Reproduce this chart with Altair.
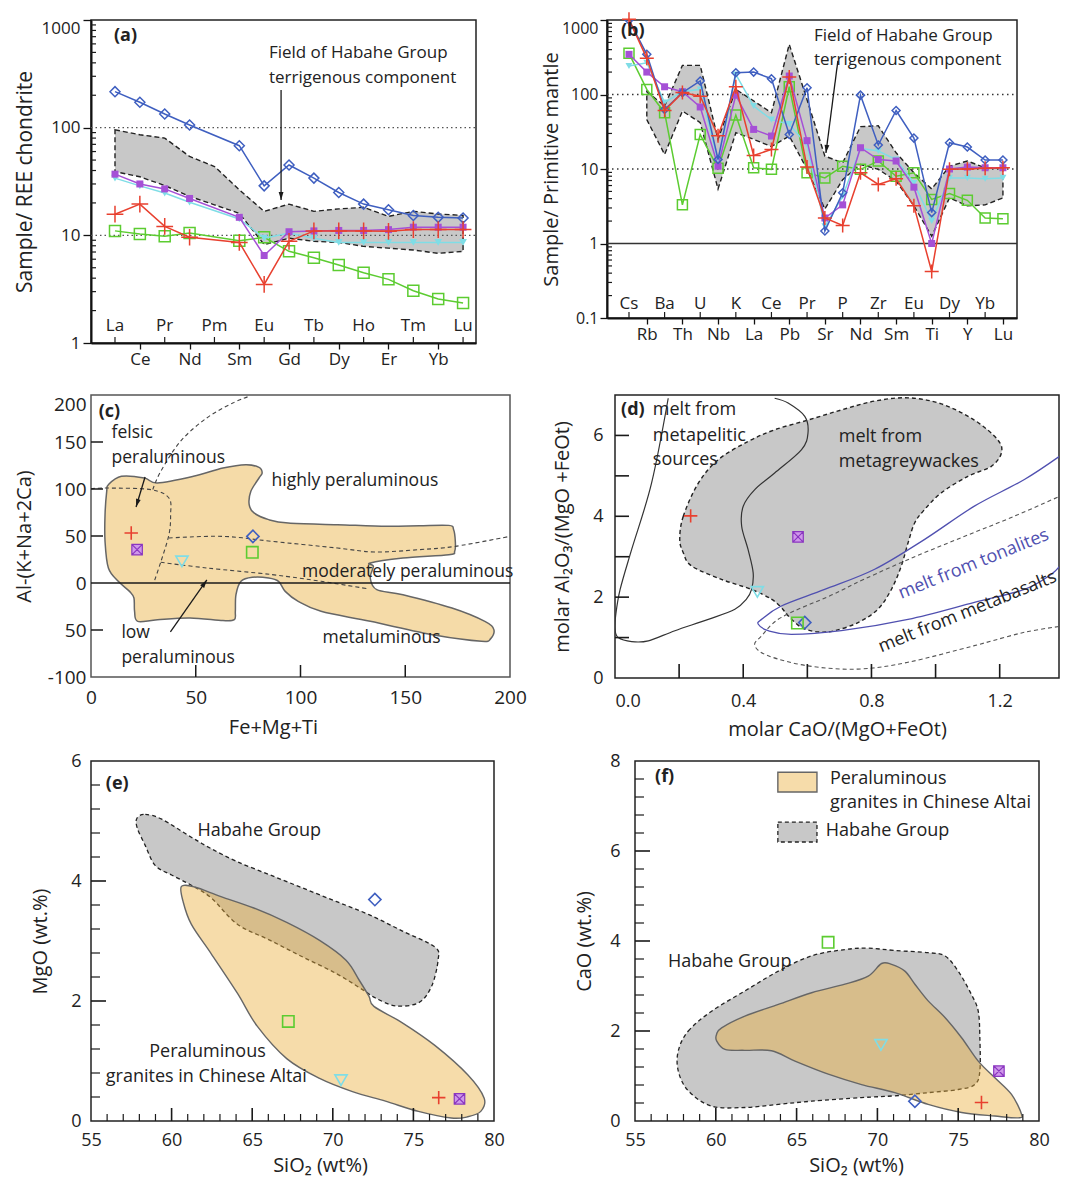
import altair as alt
import pandas as pd

FONT = "Open Sans"
BLUE = "#3f5fc0"; PURPLE = "#a550d6"; PURPLE_L = "#cf97ea"; CYAN = "#7fdde6"
RED = "#e8402f"; GREEN = "#5ccc31"; GRAY = "#c8c8c8"; TAN = "#f5dba8"
TAN_T = "#ebb03e"; TAN_A = 0.44; INK = "#1a1a1a"; DBLUE = "#5050b0"

PLUS = "M-1,0L1,0M0,-1L0,1"
XSQ = "M-1,-1L1,-1L1,1L-1,1Z M-1,-1L1,1 M1,-1L-1,1"
ARROW = "M0,0L-0.3,1L0.3,1Z"

# ---------------- (a) REE ----------------
REE = ["La", "Ce", "Pr", "Nd", "Pm", "Sm", "Eu", "Gd", "Tb", "Dy", "Ho", "Er", "Tm", "Yb", "Lu"]
a_blue = [216, 172, 134, 106, None, 68, 28.8, 45, 34, 25, 19.5, 17.3, 15.3, 14.7, 14.5]
a_purple = [37, 30, 27, 22, None, 14.7, 6.5, 10.8, 11, 11.1, 11.1, 11.3, 11.9, 11.9, 11.9]
a_cyan = [34, 28.8, 24.7, 20.3, None, 14.2, 9.4, 10.5, 9.4, 8.6, 8.6, 8.6, 8.6, 8.6, 8.6]
a_red = [15.7, 19.5, 12.1, 9.6, None, 8.6, 3.5, 8.8, 11, 11, 11, 10.9, 11.3, 11.3, 11.3]
a_green = [11, 10.3, 9.8, 10.5, None, 8.9, 9.6, 7.1, 6.2, 5.3, 4.5, 3.9, 3.06, 2.56, 2.35]
a_field_hi = [95.5, 86, 80, 54, 43.6, 26.5, 16.7, 19.5, 16.7, 17.6, 18.2, 15, 16.7, 15.8, 15.3]
a_field_lo = [39, 35, 29, 23, 19.2, 16, 8.2, 9.4, 8.8, 8.6, 7.9, 7.6, 7.3, 6.8, 7.1]

# ---------------- (b) trace elements ----------------
TE = ["Cs", "Rb", "Ba", "Th", "U", "Nb", "K", "La", "Ce", "Pb", "Pr", "Sr", "P", "Nd", "Zr",
      "Sm", "Eu", "Ti", "Dy", "Y", "Yb", "Lu"]
b_blue = [1000, 346, 63, 106, 152, 13.4, 196, 200, 163, 29, 123, 1.47, 4.8, 98, 21, 61, 26, 2.6, 22.5, 19.7, 13.2, 13.2]
b_purple = [346, 200, 127, 109, 68, 10.9, 98, 34, 27.7, 177, 24, 2.2, 3.3, 19.3, 13.4, 12.8, 5.7, 1.0, 10, 10.6, 10.4, 10.4]
b_cyan = [241, 267, 78, 110, 117, 12.8, 186, 70, 46, 40, 21, 1.7, 4.3, 19, 17.4, 13.4, 6.5, 2.0, 7.6, 7.6, 7.4, 7.6]
b_red = [1020, 306, 61, 106, 95, 28, 127, 15.2, 18.3, 172, 10.6, 2.2, 1.75, 8.9, 6.2, 7.4, 3.2, 0.42, 9.9, 10, 10.2, 10.4]
b_green = [357, 117, 57, 3.3, 29, 10.2, 53, 10.4, 9.9, 127, 8.9, 7.6, 10.9, 9.9, 12.8, 8.0, 8.9, 3.9, 4.7, 3.8, 2.2, 2.15]
b_field_idx = list(range(1, 22))
b_field_hi = [110, 70, 246, 246, 25, 117, 82, 57, 471, 85, 14.9, 12.1, 37, 38, 16.5, 8.9, 5.4, 10.9, 12.8, 10.4, 10.4]
b_field_lo = [46, 15.7, 60, 42, 5.4, 30.7, 25, 20, 27.7, 9.9, 2.9, 7.2, 11.5, 9.9, 6.9, 3.2, 1.25, 4.1, 3.2, 3.3, 4.1]

# ---------------- (c) A-B diagram ----------------
c_field_x = [8.3, 14.5, 25.5, 31.7, 48.9, 63, 73.9, 80.2, 81.7, 80.2, 76.3, 75.5, 77.8, 84.8, 94.2, 117.7,
             141.1, 156.7, 170.8, 173.1, 173.9, 173.6, 170.8, 148.9, 133.3, 134.8, 133.3, 136.4, 148.9,
             172.3, 188, 192.3, 190.8, 186.4, 164.5, 133.3, 109.8, 98.9, 92.7, 89.5, 84.8, 77, 71.6, 69.2,
             68.9, 68.4, 63, 47.3, 31.7, 22.3, 20.8, 20.5, 18.4, 13, 8.3, 6.7, 6.7, 7.5]
c_field_y = [104.6, 113.5, 111.7, 106.4, 113.5, 122.3, 125.9, 123, 117, 111.7, 97.5, 83.3, 74.5, 67.4, 63.8,
             62.1, 60.3, 61, 61.3, 56.7, 44.3, 33.7, 30.1, 26.6, 21.3, 17.7, 5.3, -7.1, -12.4, -26.6, -40.8,
             -49.6, -59.2, -62, -55.7, -40.8, -30.1, -19.5, -8.9, 1.8, 5.3, 6, 1.8, -12.4, -30.1, -39, -40,
             -37.2, -39, -40.8, -30.1, -16, -8.9, 1.8, 16, 44.3, 72.7, 97.5]
c_curve_x = [29.5, 33.3, 42.7, 55.2, 67.7, 75.5]
c_curve_y = [99.5, 118.8, 150.7, 175.5, 191.5, 198.6]
c_felsic_x = [0, 8.3, 28.6, 37.2, 38.0, 37.2, 33.3, 30.2]
c_felsic_y = [100.4, 101, 99.3, 90.4, 72.7, 51.4, 22.3, 1.8]
c_mod_x = [37.2, 63, 86.4, 117.7, 135.2, 156.7, 173.9, 200]
c_mod_y = [47.9, 49.6, 44.3, 37.2, 33, 35.5, 39, 49.6]
c_low_x = [33.3, 55.2, 86.4, 109.8, 131.7]
c_low_y = [22, 16, 8.9, 1.8, -6]
c_pts = {"red": (19.2, 53.2), "purple": (22, 35.5), "cyan": (43.4, 23), "blue": (77.3, 49.6), "green": (77, 32.6)}

# ---------------- (d) melt fields ----------------
d_pel_x = [0.166, 0.114, 0.052, 0.016, 0.002, 0.0, 0.010, 0.052, 0.104, 0.187, 0.291, 0.374, 0.410, 0.426,
           0.431, 0.415, 0.395, 0.400, 0.436, 0.498, 0.582, 0.602, 0.592, 0.540, 0.498]
d_pel_y = [6.92, 4.82, 3.18, 2.19, 1.54, 1.21, 1.0, 0.90, 0.92, 1.17, 1.45, 1.70, 1.95, 2.19, 2.60, 3.18,
           3.76, 4.25, 4.66, 5.07, 5.65, 6.06, 6.47, 6.80, 6.92]
d_gw_x = [0.202, 0.213, 0.260, 0.322, 0.415, 0.498, 0.602, 0.706, 0.810, 0.914, 1.018, 1.121, 1.194, 1.205,
          1.173, 1.101, 1.018, 0.966, 0.935, 0.914, 0.893, 0.862, 0.820, 0.758, 0.685, 0.633, 0.582, 0.540,
          0.519, 0.488, 0.426, 0.332, 0.239, 0.213]
d_gw_y = [3.43, 4.0, 4.82, 5.40, 5.85, 6.14, 6.38, 6.63, 6.85, 6.93, 6.78, 6.38, 5.89, 5.56, 5.23, 4.99, 4.58,
          4.17, 3.84, 3.34, 2.77, 2.19, 1.70, 1.37, 1.17, 1.14, 1.25, 1.54, 1.74, 1.95, 2.19, 2.44, 2.77, 3.10]
d_ton_x = [1.400, 1.277, 1.121, 0.966, 0.810, 0.654, 0.519, 0.457, 0.447, 0.478, 0.550, 0.706, 0.914, 1.121,
           1.277, 1.360, 1.391]
d_ton_y = [5.56, 4.91, 4.25, 3.43, 2.69, 2.19, 1.78, 1.45, 1.33, 1.17, 1.08, 1.17, 1.45, 1.87, 2.19, 2.56, 2.81]
d_bas_x = [1.400, 1.245, 1.089, 0.935, 0.779, 0.675, 0.519, 0.457, 0.436, 0.478, 0.602, 0.758, 0.914, 1.121,
           1.277, 1.400]
d_bas_y = [4.54, 4.0, 3.50, 3.0, 2.45, 2.05, 1.50, 1.04, 0.80, 0.55, 0.30, 0.22, 0.39, 0.80, 1.13, 1.29]
d_pts = {"red": (0.236, 4.01), "purple": (0.571, 3.49), "cyan": (0.444, 2.13), "green": (0.569, 1.36),
         "blue": (0.592, 1.37)}

# ---------------- (e) MgO vs SiO2 ----------------
e_hab_x = [57.86, 58.37, 59.39, 61.22, 62.45, 64.08, 66.12, 68.16, 70.2, 72.24, 74.29, 76.33, 76.53, 76.12,
           75.31, 73.88, 72.65, 71.84, 70.2, 68.16, 66.12, 64.08, 62.45, 61.22, 60.0, 58.98, 58.37, 57.86]
e_hab_y = [5.05, 5.11, 5.03, 4.73, 4.54, 4.32, 4.10, 3.88, 3.66, 3.44, 3.17, 2.90, 2.68, 2.24, 1.97, 1.92,
           2.05, 2.19, 2.46, 2.73, 3.01, 3.28, 3.72, 3.93, 4.10, 4.26, 4.59, 4.89]
e_gra_x = [60.61, 61.43, 63.06, 65.10, 67.14, 69.18, 70.82, 71.63, 72.24, 72.55, 74.29, 76.33, 78.37, 79.39,
           79.18, 78.37, 77.35, 75.31, 73.27, 71.22, 69.18, 67.14, 65.31, 64.08, 62.45, 61.22, 60.71]
e_gra_y = [3.91, 3.90, 3.74, 3.55, 3.31, 3.01, 2.68, 2.35, 2.08, 1.91, 1.64, 1.26, 0.77, 0.38, 0.16, 0.07,
           0.05, 0.16, 0.33, 0.49, 0.71, 1.04, 1.58, 2.13, 2.79, 3.28, 3.66]
e_pts = {"blue": (72.61, 3.69), "green": (67.24, 1.66), "cyan": (70.51, 0.68), "red": (76.57, 0.39),
         "purple": (77.86, 0.37)}

# ---------------- (f) CaO vs SiO2 ----------------
f_hab_x = [57.68, 58.30, 59.74, 61.80, 63.87, 65.93, 67.99, 69.43, 71.08, 73.14, 74.18, 75.0, 75.82, 76.24,
           76.34, 76.34, 76.03, 75.0, 73.14, 71.08, 69.02, 65.93, 63.87, 61.80, 59.74, 58.30, 57.68]
f_hab_y = [1.56, 2.0, 2.44, 2.89, 3.33, 3.67, 3.81, 3.84, 3.79, 3.74, 3.67, 3.33, 2.81, 2.44, 1.85, 1.11,
           0.81, 0.70, 0.63, 0.56, 0.52, 0.44, 0.37, 0.30, 0.33, 0.67, 1.11]
f_gra_x = [60.05, 60.36, 61.80, 63.87, 65.93, 67.99, 69.43, 70.26, 70.88, 71.70, 72.32, 73.14, 74.18, 75.21,
           76.24, 77.27, 78.30, 78.92, 78.71, 77.27, 75.21, 73.14, 71.08, 69.02, 66.96, 64.90, 63.45, 61.80,
           60.57, 60.05]
f_gra_y = [1.93, 2.07, 2.33, 2.59, 2.85, 3.04, 3.22, 3.50, 3.48, 3.33, 3.04, 2.67, 2.30, 1.85, 1.33, 0.96,
           0.59, 0.15, 0.07, 0.11, 0.19, 0.37, 0.63, 0.81, 1.04, 1.33, 1.56, 1.57, 1.59, 1.78]
f_pts = {"green": (66.95, 3.97), "cyan": (70.22, 1.69), "purple": (77.52, 1.11), "blue": (72.32, 0.44),
         "red": (76.44, 0.41)}


# ================= helpers =================
def arr(lst):
    return "[" + ",".join("'" + s + "'" for s in lst) + "]"


def xenc(dom, **ax):
    return alt.X("x:Q", scale=alt.Scale(domain=dom, nice=False, zero=False), axis=alt.Axis(**ax))


def yenc(dom, log=False, **ax):
    if log:
        sc = alt.Scale(type="log", domain=dom, nice=False)
    else:
        sc = alt.Scale(domain=dom, nice=False, zero=False)
    return alt.Y("y:Q", scale=sc, axis=alt.Axis(**ax))


def series(X, Y, xs, ys, color, shape, filled, size, clip=False):
    df = pd.DataFrame({"x": xs, "y": ys}).dropna()
    base = alt.Chart(df).encode(x=X, y=Y)
    return [base.mark_line(color=color, strokeWidth=1.5, clip=clip),
            base.mark_point(shape=shape, color=color, filled=filled, size=size, opacity=1,
                            strokeWidth=1.5, clip=clip)]


STYLE = {
    "blue": dict(color=BLUE, shape="diamond"),
    "green": dict(color=GREEN, shape="square"),
    "cyan": dict(color=CYAN, shape="triangle-down"),
    "red": dict(color=RED, shape=PLUS),
}


def sample_points(X, Y, pts):
    out = []
    sizes = {"blue": 150, "green": 130, "cyan": 150, "red": 180, "purple": 110}
    for k in ["red", "purple", "cyan", "blue", "green"]:
        x, y = pts[k]
        df = pd.DataFrame({"x": [x], "y": [y]})
        if k == "purple":
            out.append(alt.Chart(df).mark_point(shape="square", filled=True, color=PURPLE_L, size=sizes[k],
                                                opacity=1).encode(x=X, y=Y))
            out.append(alt.Chart(df).mark_point(shape=XSQ, filled=False, color="#8a36c0", size=sizes[k],
                                                opacity=1, strokeWidth=1.2).encode(x=X, y=Y))
        else:
            s = STYLE[k]
            out.append(alt.Chart(df).mark_point(shape=s["shape"], filled=False, color=s["color"],
                                                size=sizes[k], opacity=1, strokeWidth=1.6).encode(x=X, y=Y))
    return out


def poly(X, Y, xs, ys, interp, fill=None, fillOpacity=1.0, stroke=INK, dash=None, sw=1.3, clip=False):
    df = pd.DataFrame({"x": xs, "y": ys, "o": list(range(len(xs)))})
    kw = dict(interpolate=interp, stroke=stroke, strokeWidth=sw, clip=clip)
    if fill:
        kw.update(fill=fill, fillOpacity=fillOpacity)
    if dash:
        kw["strokeDash"] = dash
    return alt.Chart(df).mark_line(**kw).encode(x=X, y=Y, order="o:Q")


def label(X, Y, xs, ys, texts, **kw):
    df = pd.DataFrame({"x": xs, "y": ys, "t": texts})
    kw.setdefault("font", FONT)
    kw.setdefault("color", "#222")
    return alt.Chart(df).mark_text(**kw).encode(x=X, y=Y, text="t:N")


def hline(X, Y, y, x0, x1, **kw):
    df = pd.DataFrame({"x": [x0] * len(y), "x2": [x1] * len(y), "y": y})
    return alt.Chart(df).mark_rule(**kw).encode(x=X, x2="x2:Q", y=Y)


def yticks(Y, vals, length, width=1.2):
    df = pd.DataFrame({"y": vals})
    return alt.Chart(df).mark_rule(color=INK, strokeWidth=width).encode(y=Y, x=alt.value(0), x2=alt.value(length))


def xticks(X, vals, H, length, width=1.2):
    df = pd.DataFrame({"x": vals})
    return alt.Chart(df).mark_rule(color=INK, strokeWidth=width).encode(x=X, y=alt.value(H), y2=alt.value(H - length))


def arrow(X, Y, x1, y1, x2, y2, angle):
    df = pd.DataFrame({"x": [x1], "y": [y1], "x2": [x2], "y2": [y2]})
    r = alt.Chart(df).mark_rule(color=INK, strokeWidth=1.3).encode(x=X, y=Y, x2="x2:Q", y2="y2:Q")
    h = alt.Chart(pd.DataFrame({"x": [x2], "y": [y2]})).mark_point(
        shape=ARROW, filled=True, color=INK, size=260, angle=angle, opacity=1).encode(x=X, y=Y)
    return [r, h]


def log_minors(lo_exp, hi_exp):
    return [m * 10 ** e for e in range(lo_exp, hi_exp) for m in range(2, 10)]


TOP_LABEL = {"condition": {"test": "datum.value >= 999", "value": "top"}, "value": "middle"}

# ================= panel (a) =================
A_W, A_H = 385, 323
A_DOM = [-0.965, 14.52]
AX = xenc(A_DOM, values=[1, 3, 5, 7, 9, 11, 13], labelExpr=arr(REE) + "[datum.value]", title=None,
          tickSize=6, tickWidth=1.3, labelPadding=2, labelFontSize=17, domainWidth=2, labelAngle=0)
AY = yenc([1, 1000], log=True, values=[1, 10, 100, 1000], format="~g", title="Sample/ REE chondrite",
          tickSize=8, tickWidth=1.3, labelPadding=3, labelFontSize=17, titleFontSize=21, titlePadding=6,
          minExtent=50, maxExtent=50, domainWidth=2, labelOverlap=False, labelBaseline=TOP_LABEL)
idx = list(range(15))
a_layers = [
    poly(AX, AY, idx + idx[::-1], a_field_hi + a_field_lo[::-1], "linear-closed", fill=GRAY, stroke="#222",
         dash=[5, 3], sw=1.4),
    hline(AX, AY, [10, 100], A_DOM[0], A_DOM[1], color="#555", strokeDash=[1.5, 3], strokeWidth=1.2),
    yticks(AY, log_minors(0, 3), 5),
    xticks(AX, [0, 2, 4, 6, 8, 10, 12, 14], A_H, 6),
]
a_layers += series(AX, AY, idx, a_green, GREEN, "square", False, 121)
a_layers += series(AX, AY, idx, a_cyan, CYAN, "triangle-down", True, 60)
a_layers += series(AX, AY, idx, a_purple, PURPLE, "square", True, 49)
a_layers += series(AX, AY, idx, a_blue, BLUE, "diamond", False, 100)
a_layers += series(AX, AY, idx, a_red, RED, PLUS, False, 280)
a_layers += [
    label(AX, AY, [0, 2, 4, 6, 8, 10, 12, 14], [1.44] * 8, REE[::2], fontSize=17, align="center",
          baseline="middle"),
    label(AX, AY, [-0.04], [708], ["(a)"], fontSize=18, fontWeight="bold", align="left", baseline="middle"),
    label(AX, AY, [6.19, 6.19], [493, 289], ["Field of Habahe Group", "terrigenous component"], fontSize=17,
          align="left", baseline="middle"),
]
a_layers += arrow(AX, AY, 6.68, 224, 6.68, 21.3, 180)
panel_a = alt.layer(*a_layers).properties(width=A_W, height=A_H)

# ================= panel (b) =================
B_W, B_H = 410, 298
B_DOM = [-1.235, 21.79]
BX = xenc(B_DOM, values=list(range(1, 22, 2)), labelExpr=arr(TE) + "[datum.value]", title=None,
          tickSize=6, tickWidth=1.3, labelPadding=2, labelFontSize=17, domainWidth=2, labelAngle=0)
BY = yenc([0.1, 1000], log=True, values=[0.1, 1, 10, 100, 1000], format="~g",
          title="Sample/ Primitive mantle", tickSize=7, tickWidth=1.3, labelPadding=2, labelFontSize=16,
          titleFontSize=20, titlePadding=0, minExtent=46, maxExtent=46, domainWidth=2, labelOverlap=False,
          labelBaseline=TOP_LABEL)
tidx = list(range(22))
b_layers = [
    poly(BX, BY, b_field_idx + b_field_idx[::-1], b_field_hi + b_field_lo[::-1], "linear-closed", fill=GRAY,
         stroke="#222", dash=[5, 3], sw=1.4),
    hline(BX, BY, [10, 100], B_DOM[0], B_DOM[1], color="#333", strokeDash=[1.5, 3.5], strokeWidth=1.3),
    hline(BX, BY, [1], B_DOM[0], B_DOM[1], color="#333", strokeWidth=1.5),
    yticks(BY, log_minors(-1, 3), 5),
    xticks(BX, list(range(0, 22, 2)), B_H, 6),
]
b_layers += series(BX, BY, tidx, b_green, GREEN, "square", False, 100)
b_layers += series(BX, BY, tidx, b_cyan, CYAN, "triangle-down", True, 49)
b_layers += series(BX, BY, tidx, b_purple, PURPLE, "square", True, 49)
b_layers += series(BX, BY, tidx, b_blue, BLUE, "diamond", False, 64, clip=True)
b_layers += series(BX, BY, tidx, b_red, RED, PLUS, False, 196)
b_layers += [
    label(BX, BY, list(range(0, 22, 2)), [0.155] * 11, TE[::2], fontSize=17, align="center",
          baseline="middle"),
    label(BX, BY, [-0.45], [710], ["(b)"], fontSize=18, fontWeight="bold", align="left", baseline="middle"),
    label(BX, BY, [10.39, 10.39], [610, 290], ["Field of Habahe Group", "terrigenous component"],
          fontSize=17, align="left", baseline="middle"),
]
b_layers += arrow(BX, BY, 11.73, 282, 11.06, 16.4, 187.4)
panel_b = alt.layer(*b_layers).properties(width=B_W, height=B_H)

# ================= panel (c) =================
C_W, C_H = 419, 282
CX = xenc([0, 200], values=[0, 50, 100, 150, 200], title="Fe+Mg+Ti", ticks=False, domain=False,
          labelFlush=False, labelPadding=11, labelFontSize=19, titleFontSize=20, titlePadding=10, titleX=182)
CY = yenc([-100, 200], values=[-100, -50, 0, 50, 100, 150, 200],
          labelExpr="datum.value == -50 ? '50' : (datum.value == -100 ? '-100' : datum.label)",
          labelBaseline={"condition": {"test": "datum.value == 200", "value": "top"}, "value": "middle"},
          ticks=False, domain=False, labelPadding=5, labelFontSize=19, title="Al-(K+Na+2Ca)",
          titleFontSize=20, titlePadding=13, minExtent=44, maxExtent=44)
c_layers = [
    poly(CX, CY, c_field_x, c_field_y, "cardinal-closed", fill=TAN, stroke="#666", sw=1.5),
    poly(CX, CY, c_curve_x, c_curve_y, "cardinal", stroke="#444", dash=[4, 3], sw=1.1),
    poly(CX, CY, c_felsic_x, c_felsic_y, "cardinal", stroke="#444", dash=[4, 3], sw=1.1),
    poly(CX, CY, c_mod_x, c_mod_y, "cardinal", stroke="#444", dash=[4, 3], sw=1.1),
    poly(CX, CY, c_low_x, c_low_y, "cardinal", stroke="#444", dash=[4, 3], sw=1.1),
    hline(CX, CY, [0], 0, 200, color=INK, strokeWidth=1.6),
    yticks(CY, [150, 100, 50, -50], 12, 1.5),
    xticks(CX, [50, 100, 150], C_H, 12, 1.5),
]
c_layers += sample_points(CX, CY, c_pts)
c_layers += [
    label(CX, CY, [3.7], [181.9], ["(c)"], fontSize=18, fontWeight="bold", align="left", baseline="middle"),
    label(CX, CY, [9.8, 9.8, 86.2, 100.7, 14.5, 14.5, 110.5],
          [159.6, 133, 108.5, 11.7, -53.2, -79.8, -58.5],
          ["felsic", "peraluminous", "highly peraluminous", "moderately peraluminous", "low", "peraluminous",
           "metaluminous"], fontSize=17.5, align="left", baseline="middle"),
]
c_layers += arrow(CX, CY, 25.8, 112.8, 21.5, 80.9, 196.7)
c_layers += arrow(CX, CY, 37.9, -52.1, 55.3, 3.2, 35.4)
panel_c = alt.layer(*c_layers).properties(width=C_W, height=C_H,
                                          view=alt.ViewBackground(stroke="#555", strokeWidth=1.5))

# ================= panel (d) =================
D_W, D_H = 444, 283
D_DOM = [0, 1.385]
DX = xenc(D_DOM, values=[0, 0.4, 0.8, 1.2], format=".1f", labelFlush=True, title="molar CaO/(MgO+FeOt)",
          ticks=False, domain=False, labelPadding=14, labelFontSize=18, titleFontSize=20, titlePadding=9)
DY = yenc([0, 7], values=[0, 2, 4, 6], ticks=False, domain=False, labelPadding=12, labelFontSize=18,
          title="molar Al₂O₃/(MgO +FeOt)", titleFontSize=20, titlePadding=20, minExtent=23, maxExtent=23)
d_layers = [
    poly(DX, DY, d_gw_x, d_gw_y, "cardinal-closed", fill=GRAY, stroke="#222", dash=[4, 3], sw=1.4),
    poly(DX, DY, d_pel_x, d_pel_y, "cardinal", stroke="#333", sw=1.2, clip=True),
    poly(DX, DY, d_ton_x, d_ton_y, "cardinal", stroke=DBLUE, sw=1.3, clip=True),
    poly(DX, DY, d_bas_x, d_bas_y, "cardinal", stroke="#555", dash=[4, 3], sw=1.1, clip=True),
    yticks(DY, [1, 2, 3, 4, 5, 6], 14, 1.6),
    xticks(DX, [0.2, 0.4, 0.6, 0.8, 1.0, 1.2], D_H, 14, 1.6),
]
d_layers += sample_points(DX, DY, d_pts)
d_layers += [
    label(DX, DY, [0.019], [6.63], ["(d)"], fontSize=18, fontWeight="bold", align="left", baseline="middle"),
    label(DX, DY, [0.118, 0.118, 0.118, 0.698, 0.698], [6.63, 5.99, 5.40, 5.96, 5.35],
          ["melt from", "metapelitic", "sources", "melt from", "metagreywackes"], fontSize=18,
          align="left", baseline="middle"),
    label(DX, DY, [1.119], [2.81], ["melt from tonalites"], fontSize=18, align="center", baseline="middle",
          angle=338, color=DBLUE),
    label(DX, DY, [1.100], [1.63], ["melt from metabasalts"], fontSize=18, align="center",
          baseline="middle", angle=338),
]
panel_d = alt.layer(*d_layers).properties(width=D_W, height=D_H)

# ================= panel (e) =================
E_W, E_H = 403, 360
EX = xenc([55, 80], values=[55, 60, 65, 70, 75, 80], title="SiO₂ (wt%)", ticks=False, domain=False,
          labelFlush=False, labelPadding=10, labelFontSize=18, titleFontSize=20, titlePadding=6, titleX=229)
EY = yenc([0, 6], values=[0, 2, 4, 6], title="MgO (wt.%)", ticks=False, domain=False, labelPadding=10,
          labelFontSize=18, titleFontSize=20, titlePadding=20, minExtent=21, maxExtent=21)
minor_x = [v for v in range(56, 80) if v % 5 != 0]
e_minor_y = [round(0.4 * i, 1) for i in range(1, 15) if 0.05 < (0.4 * i) % 2 < 1.95]
e_layers = [
    poly(EX, EY, e_hab_x, e_hab_y, "cardinal-closed", fill=GRAY, stroke="#222", dash=[4, 3], sw=1.3),
    poly(EX, EY, e_gra_x, e_gra_y, "cardinal-closed", fill=TAN_T, fillOpacity=TAN_A, stroke="#666", sw=1.4),
    yticks(EY, [2, 4], 15, 1.6),
    yticks(EY, e_minor_y, 9, 1.2),
    xticks(EX, [60, 65, 70, 75], E_H, 13, 1.6),
    xticks(EX, minor_x, E_H, 7, 1.2),
]
e_layers += sample_points(EX, EY, e_pts)
e_layers += [
    label(EX, EY, [55.92], [5.62], ["(e)"], fontSize=18, fontWeight="bold", align="left", baseline="middle"),
    label(EX, EY, [61.61, 58.61, 55.92], [4.84, 1.15, 0.74],
          ["Habahe Group", "Peraluminous", "granites in Chinese Altai"], fontSize=18, align="left",
          baseline="middle"),
]
panel_e = alt.layer(*e_layers).properties(width=E_W, height=E_H)

# ================= panel (f) =================
F_W, F_H = 404, 360
FX = xenc([55, 80], values=[55, 60, 65, 70, 75, 80], title="SiO₂ (wt%)", ticks=False, domain=False,
          labelFlush=False, labelPadding=10, labelFontSize=18, titleFontSize=20, titlePadding=6, titleX=221)
FY = yenc([0, 8], values=[0, 2, 4, 6, 8], title="CaO (wt.%)", ticks=False, domain=False, labelPadding=15,
          labelFontSize=18, titleFontSize=20, titlePadding=15, minExtent=26, maxExtent=26)
f_minor_y = [round(0.4 * i, 1) for i in range(1, 20) if 0.05 < (0.4 * i) % 2 < 1.95]
leg = pd.DataFrame({"x": [63.84, 63.84], "x2": [66.26, 66.26], "y": [7.75, 6.64], "y2": [7.31, 6.20]})
f_layers = [
    poly(FX, FY, f_hab_x, f_hab_y, "cardinal-closed", fill=GRAY, stroke="#222", dash=[4, 3], sw=1.3),
    poly(FX, FY, f_gra_x, f_gra_y, "cardinal-closed", fill=TAN_T, fillOpacity=TAN_A, stroke="#666", sw=1.4),
    yticks(FY, [2, 4, 6], 15, 1.6),
    yticks(FY, f_minor_y, 9, 1.2),
    xticks(FX, [60, 65, 70, 75], F_H, 13, 1.6),
    xticks(FX, minor_x, F_H, 7, 1.2),
    alt.Chart(leg.iloc[[0]]).mark_rect(fill=TAN_T, fillOpacity=TAN_A, stroke="#666", strokeWidth=1.4).encode(
        x=FX, x2="x2:Q", y=FY, y2="y2:Q"),
    alt.Chart(leg.iloc[[1]]).mark_rect(fill=GRAY, stroke="#222", strokeWidth=1.3, strokeDash=[4, 3]).encode(
        x=FX, x2="x2:Q", y=FY, y2="y2:Q"),
]
f_layers += sample_points(FX, FY, f_pts)
f_layers += [
    label(FX, FY, [56.24], [7.64], ["(f)"], fontSize=18, fontWeight="bold", align="left", baseline="middle"),
    label(FX, FY, [67.06, 67.06, 66.81, 57.04], [7.59, 7.06, 6.45, 3.53],
          ["Peraluminous", "granites in Chinese Altai", "Habahe Group", "Habahe Group"], fontSize=18,
          align="left", baseline="middle"),
]
panel_f = alt.layer(*f_layers).properties(width=F_W, height=F_H)

# ================= layout =================
row1 = alt.hconcat(panel_a, panel_b, spacing=62)
row2 = alt.hconcat(panel_c, panel_d, spacing=23)
row3 = alt.hconcat(panel_e, panel_f, spacing=67)
chart = alt.vconcat(row1, alt.vconcat(row2, row3, spacing=11), spacing=25).properties(
    padding={"left": 5, "top": 0, "right": 0, "bottom": 0}
).configure(font=FONT).configure_view(stroke="#222", strokeWidth=1.5).configure_axis(
    labelFont=FONT, titleFont=FONT, titleFontWeight="normal", labelColor="#222", titleColor="#222",
    grid=False, domainColor="#111", tickColor="#111"
)

chart.save("out.html", embed_options={"renderer": "svg", "actions": False})
